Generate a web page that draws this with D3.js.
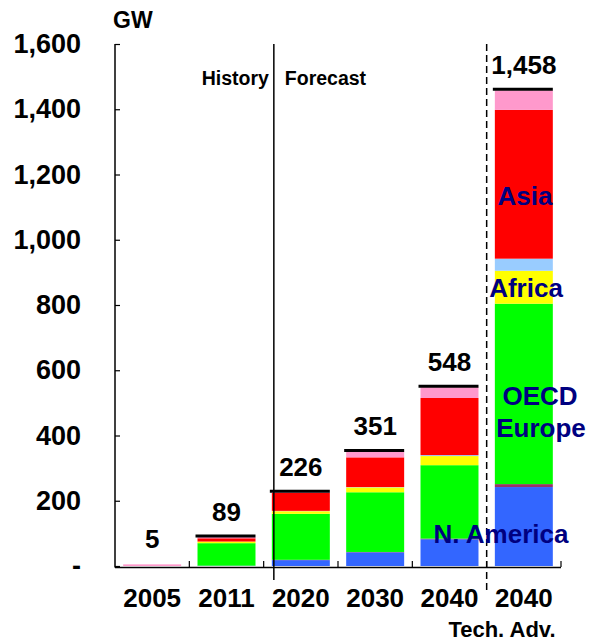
<!DOCTYPE html>
<meta charset="utf-8">
<style>
body { margin: 0; background: #fff; }
text { font-family: "Liberation Sans", Arial, sans-serif; font-weight: bold; }
</style>
<body>
<script src="https://d3js.org/d3.v7.min.js"></script>
<script>

// categories and stacked values (GW)
var categories = ["2005", "2011", "2020", "2030", "2040", "2040 Tech. Adv."];
var naAmerica   = [0,  1,  18,  42,  82, 242];
var latAmerica  = [0,  0,   1,   1,   2,   9];
var oecdEurope  = [0, 69, 141, 183, 225, 553];
var africa      = [0,  5,   8,  15,  28, 101];
var middleEast  = [0,  0,   1,   1,   3,  37];
var asia        = [0, 10,  55,  91, 175, 456];
var other       = [5,  4,   2,  18,  33,  60];
var totals      = [5, 89, 226, 351, 548, 1458];
var yTicks      = [0, 200, 400, 600, 800, 1000, 1200, 1400, 1600];

var seriesKeys   = ["naAmerica", "latAmerica", "oecdEurope", "africa", "middleEast", "asia", "other"];
var seriesColors = ["#3366ff", "#993366", "#00ff00", "#ffff00", "#99ccff", "#ff0000", "#ff99cc"];

var table = categories.map(function(c, i) {
  return {cat: c, naAmerica: naAmerica[i], latAmerica: latAmerica[i], oecdEurope: oecdEurope[i],
          africa: africa[i], middleEast: middleEast[i], asia: asia[i], other: other[i]};
});

var W = 591, H = 643;
var svg = d3.select("body").append("svg").attr("width", W).attr("height", H);

// scales
var x = d3.scaleBand().domain(categories).range([115, 561]).paddingInner(0.22).paddingOuter(0.11);
var y = d3.scaleLinear().domain([0, 1600]).range([566, 44]);

// stacked bars
var stack = d3.stack().keys(seriesKeys)(table);
svg.selectAll("g.layer")
  .data(stack)
  .enter().append("g")
    .attr("class", "layer")
    .attr("fill", function(d, i) { return seriesColors[i]; })
  .selectAll("rect")
  .data(function(d) { return d; })
  .enter().append("rect")
    .attr("x", function(d) { return x(d.data.cat); })
    .attr("width", x.bandwidth())
    .attr("y", function(d) { return y(d[1]); })
    .attr("height", function(d) { return y(d[0]) - y(d[1]); });

// total markers (black line at top of each bar)
svg.selectAll("line.total")
  .data(categories.slice(1))
  .enter().append("line")
    .attr("x1", function(d) { return x(d) - 2; })
    .attr("x2", function(d) { return x(d) + x.bandwidth(); })
    .attr("y1", function(d) { return y(totals[categories.indexOf(d)]) - 1; })
    .attr("y2", function(d) { return y(totals[categories.indexOf(d)]) - 1; })
    .attr("stroke", "#000")
    .attr("stroke-width", 3);

// total labels
svg.selectAll("text.tot")
  .data(categories)
  .enter().append("text")
    .attr("x", function(d) { return x(d) + x.bandwidth() / 2; })
    .attr("y", function(d, i) { return y(totals[i]) - 16; })
    .attr("text-anchor", "middle")
    .style("font-size", "26px")
    .text(function(d, i) { return d3.format(",")(totals[i]); });

// y axis
var yAxis = svg.append("g")
    .attr("transform", "translate(115,0)")
    .call(d3.axisRight(y).tickValues(yTicks).tickSize(5).tickFormat(""));
yAxis.select(".domain").attr("stroke", "#000").attr("stroke-width", 1.5).attr("d", "M0,44V567.5");
yAxis.selectAll(".tick line").attr("stroke", "#000").attr("stroke-width", 1.2);

svg.selectAll("text.ylab")
  .data(yTicks)
  .enter().append("text")
    .attr("x", 81)
    .attr("y", function(d) { return y(d) + 9; })
    .attr("text-anchor", "end")
    .style("font-size", "27px")
    .text(function(d) { return d === 0 ? "-" : d3.format(",")(d); });

svg.append("text")
    .attr("x", 113).attr("y", 28)
    .style("font-size", "23px")
    .text("GW");

// x axis with ticks at band boundaries
var step = x.step();
var bounds = d3.range(categories.length + 1).map(function(i) { return 115 + i * step; });
svg.append("line")
    .attr("x1", 115).attr("x2", 561).attr("y1", 567.5).attr("y2", 567.5)
    .attr("stroke", "#000").attr("stroke-width", 1.5);
svg.selectAll("line.xtick")
  .data(bounds.slice(1))
  .enter().append("line")
    .attr("x1", function(d) { return d; }).attr("x2", function(d) { return d; })
    .attr("y1", 567).attr("y2", 561)
    .attr("stroke", "#000").attr("stroke-width", 1.2);

svg.selectAll("text.xlab")
  .data(categories)
  .enter().append("text")
    .attr("x", function(d) { return x(d) + x.bandwidth() / 2; })
    .attr("y", 607)
    .attr("text-anchor", "middle")
    .style("font-size", "26px")
    .text(function(d) { return d.slice(0, 4); });

svg.append("text")
    .attr("x", 502).attr("y", 637)
    .attr("text-anchor", "middle")
    .style("font-size", "22px")
    .text("Tech. Adv.");

// history / forecast divider
var divX = x("2020") + 2;
svg.append("line")
    .attr("x1", divX).attr("x2", divX).attr("y1", y(1600)).attr("y2", 580)
    .attr("stroke", "#000").attr("stroke-width", 1.5);
svg.append("text")
    .attr("x", divX - 5).attr("y", 85)
    .attr("text-anchor", "end")
    .style("font-size", "19.5px")
    .text("History");
svg.append("text")
    .attr("x", divX + 11).attr("y", 85)
    .style("font-size", "19.5px")
    .text("Forecast");

// dashed divider before the tech-advance bar
var dashX = bounds[5];
svg.append("line")
    .attr("x1", dashX).attr("x2", dashX).attr("y1", y(1600)).attr("y2", 592)
    .attr("stroke", "#000").attr("stroke-width", 1.5)
    .attr("stroke-dasharray", "7,4");

// region labels on the tech-advance bar
var regionLabels = [
  {t: "Asia", x: 525, y: 205},
  {t: "Africa", x: 526, y: 297},
  {t: "OECD", x: 540, y: 405},
  {t: "Europe", x: 541, y: 437},
  {t: "N. America", x: 501, y: 543}
];
svg.selectAll("text.region")
  .data(regionLabels)
  .enter().append("text")
    .attr("x", function(d) { return d.x; })
    .attr("y", function(d) { return d.y; })
    .attr("text-anchor", "middle")
    .attr("fill", "#000080")
    .style("font-size", "26px")
    .text(function(d) { return d.t; });

</script>
</body>
